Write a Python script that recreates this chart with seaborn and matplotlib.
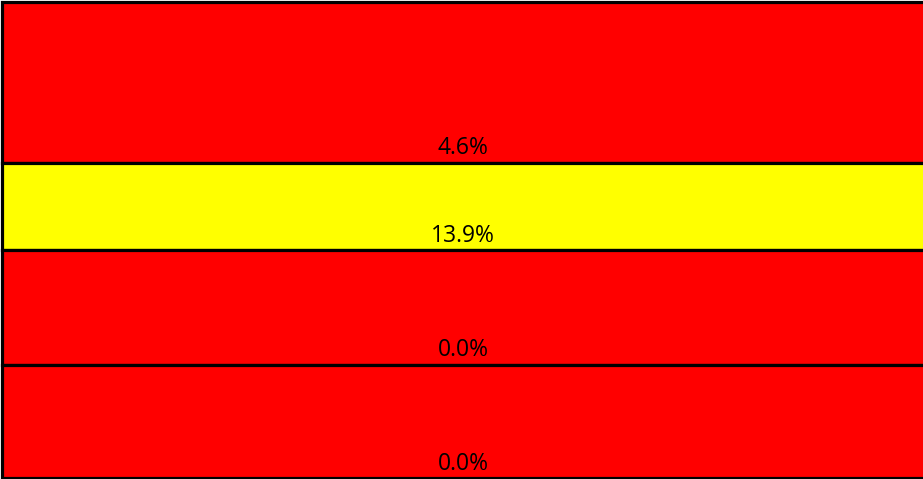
"""
单列分段色块图（红/黄）
"""

import matplotlib.pyplot as plt
import matplotlib.transforms as mtransforms
import numpy as np
import pandas as pd
import seaborn as sns

# 数据
segments = ["A", "B", "C", "D"]
segment_sizes = [161, 87, 115, 113]
segment_labels = ["4.6%", "13.9%", "0.0%", "0.0%"]
segment_colors = ["#FF0000", "#FFFF00", "#FF0000", "#FF0000"]


def plot_segments(save_path="out.png"):
    sns.set_theme(style="white")
    plt.rcParams["font.family"] = ["Open Sans", "DejaVu Sans"]

    fig = plt.figure(figsize=(9.23, 4.79), dpi=100)
    ax = fig.add_axes([0, 0, 1, 1])

    sizes = np.array(segment_sizes, dtype=float)
    bottoms = np.concatenate([[0], np.cumsum(sizes)[:-1]])
    df = pd.DataFrame({"col": ["x"] * len(segments), "size": sizes, "bottom": bottoms})

    for i, row in df.iterrows():
        sns.barplot(x=[row["col"]], y=[row["size"]], bottom=row["bottom"],
                    color=segment_colors[i], saturation=1, width=1.0,
                    edgecolor="black", linewidth=2.3, ax=ax)

    total = sizes.sum()
    ax.set_xlim(-0.502, 0.48)
    ax.set_ylim(total + 1.5, -1.5)

    trans = mtransforms.blended_transform_factory(fig.transFigure, ax.transData)
    for b, s, lab in zip(bottoms, sizes, segment_labels):
        ax.text(0.502, b + s - 2, lab, transform=trans, ha="center", va="bottom",
                fontsize=16.5, color="black")

    ax.set_axis_off()
    fig.savefig(save_path, dpi=100)
    plt.close(fig)


plot_segments()
